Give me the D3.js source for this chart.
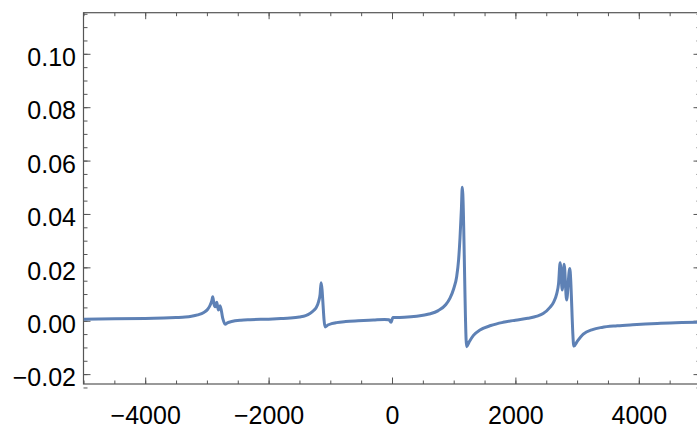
<!DOCTYPE html>
<html>
<head>
<meta charset="utf-8">
<script src="https://cdn.jsdelivr.net/npm/d3@7"></script>
<style>
  body { margin: 0; background: #fff; }
  .tick text { font-family: "Liberation Sans", Arial, sans-serif; }
</style>
</head>
<body>
<div id="chart"></div>
<script>
const xValues = [-5000, -4500, -4000, -3700, -3500, -3350, -3250, -3150, -3050, -2990,
    -2948, -2920, -2905, -2885, -2868, -2840, -2814, -2786, -2743, -2705,
    -2660, -2600, -2450, -2300, -2000, -1800, -1650, -1500, -1400, -1330,
    -1270, -1220, -1190, -1165, -1150, -1085, -1040, -980, -900, -750,
    -550, -300, -120, -50, -16, 15, 60, 200, 400, 600,
    750, 870, 940, 1000, 1048, 1080, 1102, 1125, 1139, 1210,
    1250, 1320, 1426, 1600, 1800, 2000, 2200, 2350, 2450, 2560,
    2620, 2668, 2700, 2725, 2760, 2790, 2830, 2880, 2948, 3000,
    3100, 3250, 3400, 3650, 3900, 4300, 4700, 5000];
const yValues = [0.0006, 0.0007, 0.0008, 0.0010, 0.0012, 0.0014, 0.0017, 0.0022, 0.0031, 0.0042,
    0.0058, 0.0075, 0.0090, 0.0062, 0.0052, 0.0069, 0.0040, 0.0056, 0.0009, -0.0013,
    -0.0007, -0.0003, 0.0002, 0.0004, 0.0006, 0.0008, 0.0010, 0.0014, 0.0019, 0.0027,
    0.0038, 0.0053, 0.0072, 0.0100, 0.0142, -0.0023, -0.0016, -0.0011, -0.0007, -0.0003,
    0.0000, 0.0003, 0.0005, 0.0004, -0.0006, 0.0012, 0.0012, 0.0013, 0.0017, 0.0025,
    0.0038, 0.0060, 0.0085, 0.0120, 0.0165, 0.0230, 0.0310, 0.0420, 0.0500, -0.0097,
    -0.0080, -0.0055, -0.0035, -0.0018, -0.0006, 0.0002, 0.0009, 0.0017, 0.0027, 0.0050,
    0.0070, 0.0100, 0.0140, 0.0217, 0.0115, 0.0212, 0.0078, 0.0196, -0.0095, -0.0078,
    -0.0050, -0.0033, -0.0025, -0.0019, -0.0015, -0.0010, -0.0007, -0.0005];

const xTicks = [-4000, -2000, 0, 2000, 4000];
const xMinorTicks = d3.range(-5000, 5001, 500);
const yTicks = [-0.02, 0, 0.02, 0.04, 0.06, 0.08, 0.10];
const yMinorTicks = d3.range(-0.025, 0.1151, 0.005);

const data = xValues.map((x, i) => ({ x: x, y: yValues[i] }));

const W = 697, H = 430;
const margin = { top: 12.7, right: -3.5, bottom: 46, left: 83.5 };
const width = W - margin.left - margin.right;
const height = H - margin.top - margin.bottom;

const x = d3.scaleLinear().domain([-5000, 5000]).range([0, width]);
const y = d3.scaleLinear().domain([-0.0237, 0.1154]).range([height, 0]);

const minus = s => s.replace("-", "\u2212");

const svg = d3.select("#chart")
    .append("svg")
    .attr("width", W)
    .attr("height", H)
    .append("g")
    .attr("transform", `translate(${margin.left},${margin.top})`);

svg.append("defs").append("clipPath")
    .attr("id", "clip")
    .append("rect")
    .attr("width", width)
    .attr("height", height);

const frameColor = "#555";

function styleAxis(g) {
    g.select(".domain").remove();
    g.selectAll(".tick line").attr("stroke", frameColor).attr("stroke-width", 1);
    g.selectAll(".tick text").attr("fill", "#000").style("font-size", "25px");
}

// bottom
svg.append("g")
    .attr("transform", `translate(0,${height})`)
    .call(d3.axisBottom(x).tickValues(xMinorTicks).tickSize(-3.5).tickFormat(""))
    .call(styleAxis);
svg.append("g")
    .attr("transform", `translate(0,${height})`)
    .call(d3.axisBottom(x).tickValues(xTicks).tickSize(-6.5).tickPadding(22.5)
        .tickFormat(d => minus(d3.format("d")(d))))
    .call(styleAxis);

// top
svg.append("g")
    .call(d3.axisTop(x).tickValues(xMinorTicks).tickSize(-3.5).tickFormat(""))
    .call(styleAxis);
svg.append("g")
    .call(d3.axisTop(x).tickValues(xTicks).tickSize(-6.5).tickFormat(""))
    .call(styleAxis);

// left
svg.append("g")
    .call(d3.axisLeft(y).tickValues(yMinorTicks).tickSize(-4).tickFormat(""))
    .call(styleAxis);
svg.append("g")
    .call(d3.axisLeft(y).tickValues(yTicks).tickSize(-7).tickPadding(7.5)
        .tickFormat(d => minus(d3.format(".2f")(d))))
    .call(styleAxis)
    .selectAll(".tick text")
    .attr("dy", "0.47em");

// right
svg.append("g")
    .attr("transform", `translate(${width},0)`)
    .call(d3.axisRight(y).tickValues(yMinorTicks).tickSize(-4).tickFormat(""))
    .call(styleAxis);
svg.append("g")
    .attr("transform", `translate(${width},0)`)
    .call(d3.axisRight(y).tickValues(yTicks).tickSize(-7).tickFormat(""))
    .call(styleAxis);

// frame
svg.append("rect")
    .attr("width", width)
    .attr("height", height)
    .attr("fill", "none")
    .attr("stroke", frameColor)
    .attr("stroke-width", 1.2);

const line = d3.line()
    .x(d => x(d.x))
    .y(d => y(d.y))
    .curve(d3.curveMonotoneX);

svg.append("path")
    .datum(data)
    .attr("clip-path", "url(#clip)")
    .attr("fill", "none")
    .attr("stroke", "#5e81b5")
    .attr("stroke-width", 3)
    .attr("stroke-linejoin", "round")
    .attr("d", line);
</script>
</body>
</html>
